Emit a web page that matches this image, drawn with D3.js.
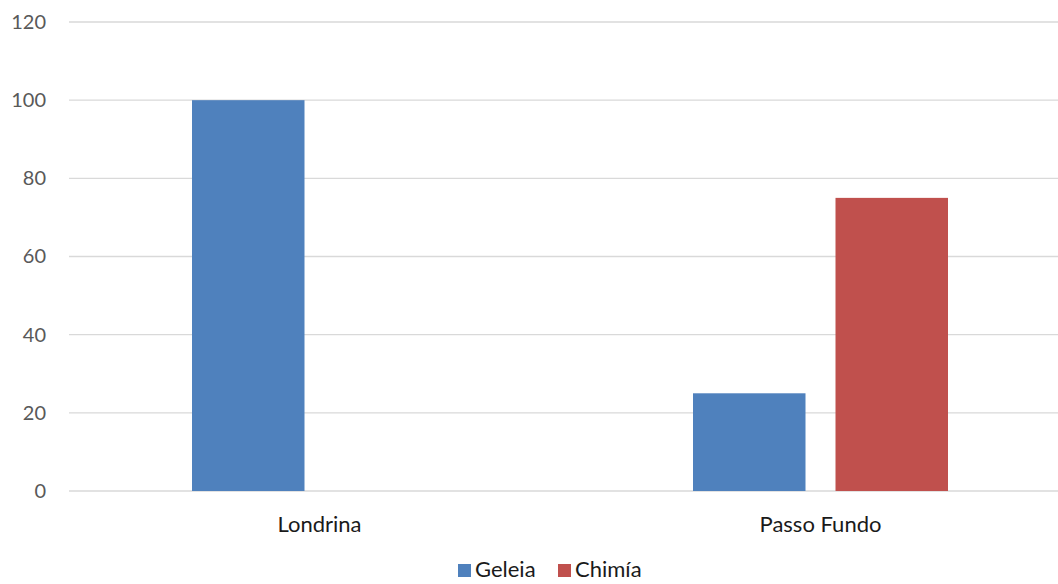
<!DOCTYPE html>
<html><head><meta charset="utf-8">
<script src="https://cdn.jsdelivr.net/npm/d3@7"></script>
<style>body{margin:0;background:#fff;}svg{display:block;font-family:Lato,"Open Sans",sans-serif;}</style>
</head><body>
<svg id="c" width="1058" height="584"></svg>
<script>
const categories = ["Londrina", "Passo Fundo"];
const seriesNames = ["Geleia", "Chimía"];
const geleia = [100, 25];
const chimia = [0, 75];
const yTicks = [0, 20, 40, 60, 80, 100, 120];
const colors = ["#4f81bd", "#c0504d"];

const svg = d3.select("#c");
const x0 = d3.scaleBand().domain(categories).range([69, 1071]).paddingInner(0).paddingOuter(0);
const y = d3.scaleLinear().domain([0, 120]).range([491, 22]);
const groupPad = 123;
const x1 = d3.scaleBand().domain(seriesNames).range([0, x0.bandwidth() - 2 * groupPad]).paddingInner(30 / 142.5);

// gridlines
svg.append("g").selectAll("line").data(yTicks).join("line")
  .attr("x1", 69).attr("x2", 1058)
  .attr("y1", d => y(d)).attr("y2", d => y(d))
  .attr("stroke", "#d9d9d9").attr("stroke-width", 1.3);

// y axis labels
const yAxis = d3.axisLeft(y).tickValues(yTicks).tickSize(0).tickPadding(0);
const ga = svg.append("g").attr("transform", "translate(46,0)").call(yAxis);
ga.select(".domain").remove();
ga.selectAll("text").attr("font-size", 20).attr("fill", "#595959").attr("font-family", "Lato,'Open Sans',sans-serif");

const data = categories.map((c, i) => ({cat: c, vals: [geleia[i], chimia[i]]}));
const groups = svg.append("g").selectAll("g").data(data).join("g")
  .attr("transform", d => `translate(${x0(d.cat) + groupPad},0)`);
groups.selectAll("rect").data(d => d.vals.map((v, j) => ({v, s: seriesNames[j], j})))
  .join("rect")
  .attr("x", d => x1(d.s)).attr("width", x1.bandwidth())
  .attr("y", d => y(d.v)).attr("height", d => y(0) - y(d.v))
  .attr("fill", d => colors[d.j]);

// category labels
const xAxis = d3.axisBottom(x0).tickSize(0).tickPadding(0);
const gx = svg.append("g").attr("transform", "translate(0,0)").call(xAxis);
gx.select(".domain").remove();
gx.selectAll("text").attr("font-size", 22).attr("fill", "#1a1a1a")
  .attr("font-family", "Lato,'Open Sans',sans-serif").attr("dy", null).attr("y", 532);

// legend
const legendX = [458, 558];
const lg = svg.append("g").selectAll("g").data(seriesNames).join("g")
  .attr("transform", (d, i) => `translate(${legendX[i]},0)`);
lg.append("rect").attr("x", 0).attr("y", 564).attr("width", 13).attr("height", 13)
  .attr("fill", (d, i) => colors[i]);
lg.append("text").attr("x", 17).attr("y", 577).attr("font-size", 22).attr("fill", "#1a1a1a")
  .text(d => d);
</script>
</body></html>
